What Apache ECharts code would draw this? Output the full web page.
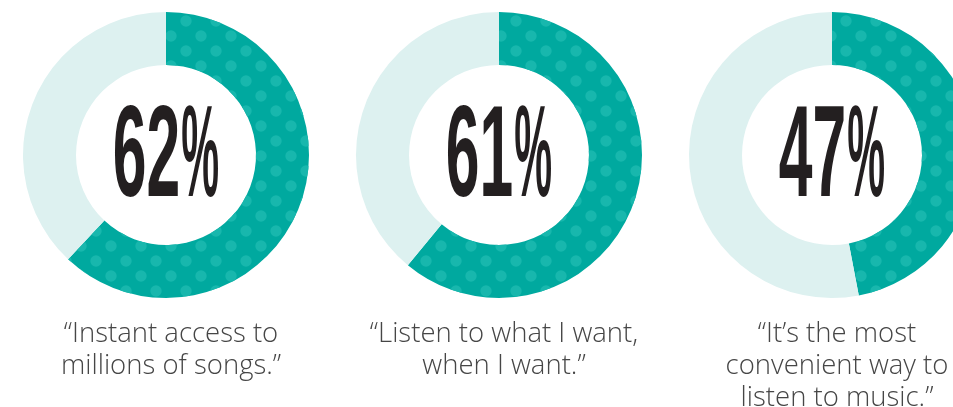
<!DOCTYPE html>
<html>
<head>
<meta charset="utf-8">
<style>
  html, body { margin: 0; padding: 0; background: #ffffff; }
  #chart { width: 953px; height: 407px; }
</style>
<script src="https://cdn.jsdelivr.net/npm/echarts@6/dist/echarts.min.js"></script>
</head>
<body>
<div id="chart"></div>
<script>
// Share of listeners citing each reason (percent)
const values = [62, 61, 47];
const quotes = [
  '“Instant access to\nmillions of songs.”',
  '“Listen to what I want,\nwhen I want.”',
  '“It’s the most\nconvenient way to\nlisten to music.”'
];

// Layout
const centersX = [166, 499, 832];
const centerY = 155;
const ringRadius = [90, 143];
const teal = '#00A99F';
const dotTeal = '#18B7AD';
const paleTeal = '#DDF1F0';
const numFont = 'bold 129px "Liberation Sans", Arial, sans-serif';
const numScale = 0.47;
const pctScale = 0.33;

const chart = echarts.init(document.getElementById('chart'), null, { renderer: 'canvas' });

// Measure big numbers so each "NN%" group can be centred in its ring
const measureCtx = document.createElement('canvas').getContext('2d');
measureCtx.font = numFont;
function textWidth(s) { return measureCtx.measureText(s).width; }

// Staggered polka-dot fill for the highlighted share
const dotDecal = {
  symbol: 'circle',
  color: dotTeal,
  symbolSize: 0.95,
  dashArrayX: [[12, 18], [0, 15, 12, 3]],
  dashArrayY: [12, 3],
  rotation: 0
};

const series = values.map((v, i) => ({
  type: 'pie',
  center: [centersX[i], centerY],
  radius: ringRadius,
  startAngle: 90,
  clockwise: true,
  silent: true,
  animation: false,
  label: { show: false },
  labelLine: { show: false },
  emphasis: { disabled: true },
  data: [
    { value: v, itemStyle: { color: teal, decal: dotDecal } },
    { value: 100 - v, itemStyle: { color: paleTeal } }
  ]
}));

const graphics = [];
values.forEach((v, i) => {
  const numStr = String(v);
  const wNum = textWidth(numStr) * numScale;
  const wPct = textWidth('%') * pctScale;
  const gap = 1;
  const left = centersX[i] - (wNum + gap + wPct) / 2;
  graphics.push({
    type: 'text',
    x: left,
    y: centerY + 5,
    scaleX: numScale,
    silent: true,
    style: { text: numStr, font: numFont, fill: '#231F20', align: 'left', verticalAlign: 'middle' }
  });
  graphics.push({
    type: 'text',
    x: left + wNum + gap,
    y: centerY + 5,
    scaleX: pctScale,
    silent: true,
    style: { text: '%', font: numFont, fill: '#231F20', align: 'left', verticalAlign: 'middle' }
  });
  graphics.push({
    type: 'text',
    x: centersX[i] + 5,
    y: 318,
    silent: true,
    style: {
      text: quotes[i],
      font: '300 27.5px "Open Sans", Roboto, sans-serif',
      lineHeight: 32,
      fill: '#464646',
      align: 'center',
      verticalAlign: 'top'
    }
  });
});

chart.setOption({
  backgroundColor: '#ffffff',
  animation: false,
  series: series,
  graphic: { elements: graphics }
});
</script>
</body>
</html>
